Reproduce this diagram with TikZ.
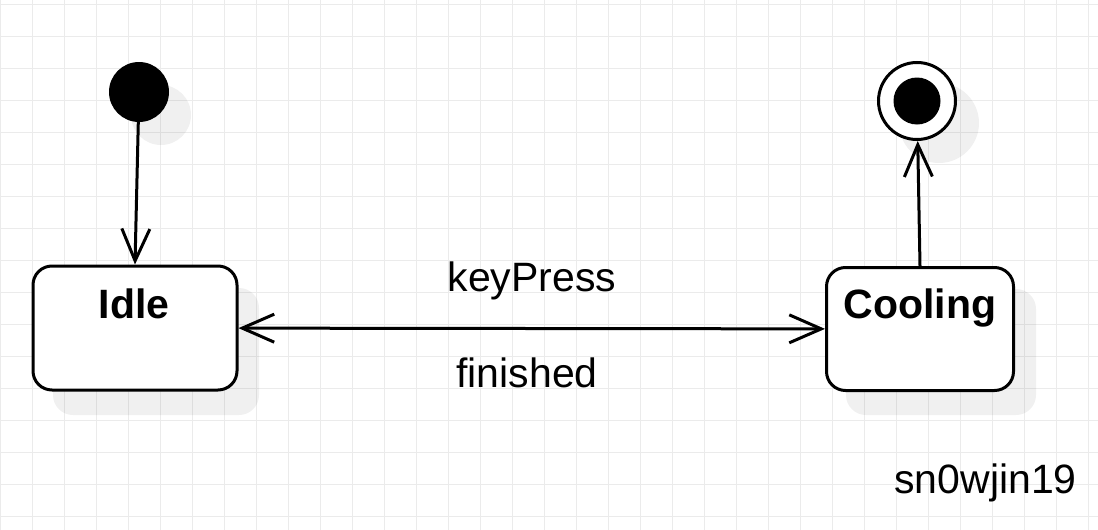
\documentclass[tikz,border=0pt]{standalone}
\usepackage{fontspec}
\setmainfont{Liberation Sans}
\usetikzlibrary{arrows.meta}
\tikzset{
  gridline/.style={draw=black!8, line width=1pt},
  shadowfill/.style={fill=black, fill opacity=0.06},
  statebox/.style={draw=black, fill=white, line width=3pt, rounded corners=19pt, inner sep=0pt},
  initdot/.style={circle, fill=black, minimum size=60pt, inner sep=0pt},
  finalring/.style={circle, draw=black, fill=white, line width=3pt, minimum size=77pt, inner sep=0pt},
  finaldot/.style={circle, fill=black, minimum size=47pt, inner sep=0pt},
  conn/.style={line width=3pt, -{Straight Barb[length=32pt, width=28pt, line width=3pt]}},
  connboth/.style={line width=3pt, {Straight Barb[length=32pt, width=28pt, line width=3pt]}-{Straight Barb[length=32pt, width=28pt, line width=3pt]}},
  bigtext/.style={font=\fontsize{41pt}{49pt}\selectfont, inner sep=0pt},
  boldtext/.style={font=\fontsize{41pt}{49pt}\selectfont\bfseries, inner sep=0pt}
}
\begin{document}
\begin{tikzpicture}[x=1pt, y=-1pt]
\useasboundingbox (0,0) rectangle (1098,530);
\fill[white] (0,0) rectangle (1098,530);
% grid
\foreach \k in {0,...,34} { \draw[gridline] (32*\k+0.5,0) -- (32*\k+0.5,530); }
\foreach \k in {0,...,16} { \draw[gridline] (0,4+32*\k) -- (1098,4+32*\k); }
% shadows
\fill[shadowfill] (161,115) circle[radius=30];
\fill[shadowfill] (939,123) circle[radius=40];
\fill[shadowfill, rounded corners=20pt] (53,288) rectangle (259,415);
\fill[shadowfill, rounded corners=20pt] (846,289) rectangle (1036,415);
% states
\node[initdot] (init) at (139,92) {};
\node[finalring] (final) at (917,101) {};
\node[finaldot] (finaldot) at (917,101) {};
\node[statebox, minimum width=204pt, minimum height=124pt] (idle) at (135,328) {};
\node[statebox, minimum width=187pt, minimum height=123pt] (cool) at (920,329) {};
% labels
\node[boldtext, anchor=base] (idleL) at (134,318) {Idle};
\node[boldtext, anchor=base] (coolL) at (920,318) {Cooling};
\node[bigtext, anchor=base] (keyL) at (532,291) {keyPress};
\node[bigtext, anchor=base] (finL) at (527,387) {finished};
\node[bigtext, anchor=base east] (sign) at (1077,493) {sn0wjin19};
% connectors
\draw[conn] (init) -- (idle.north);
\draw[conn] (cool.north) -- (final);
\draw[connboth] (idle) -- (cool);
\end{tikzpicture}
\end{document}
